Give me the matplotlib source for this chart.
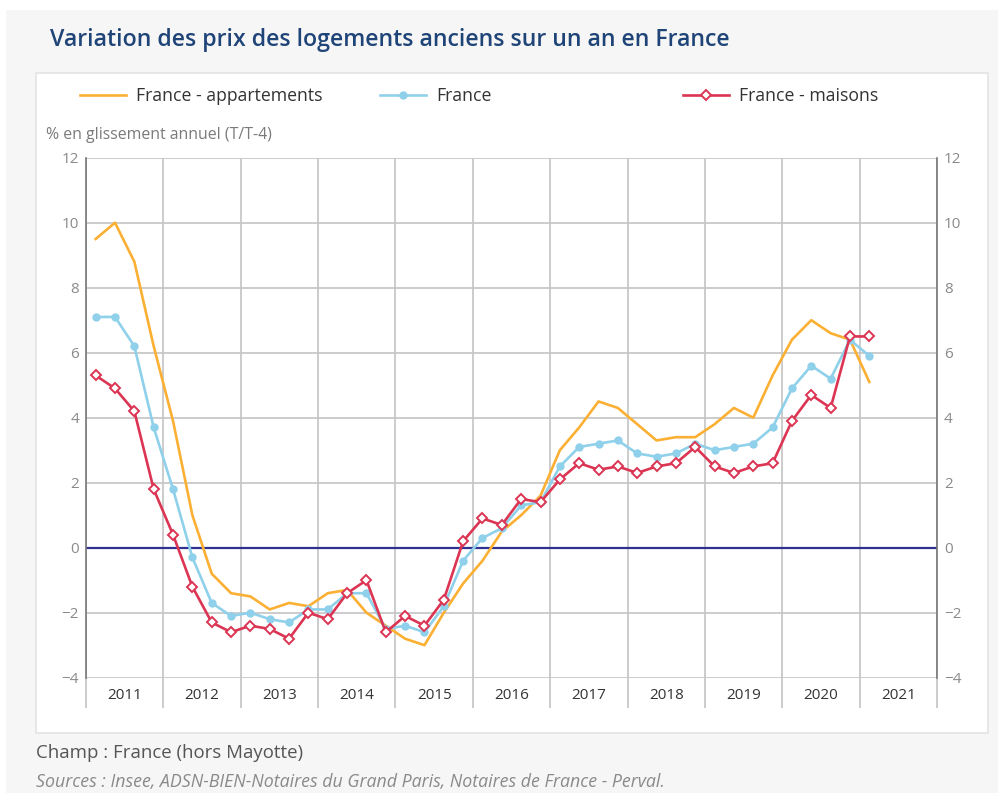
import matplotlib.pyplot as plt
from matplotlib.patches import Rectangle

plt.rcParams['font.family'] = ['Open Sans', 'DejaVu Sans']

# trimestres 2011T1 .. 2021T1 (glissement annuel, en %)
annees = list(range(2011, 2022))
trimestres = [a + (q + 0.5) / 4 for a in annees for q in range(4)][:41]

appartements = [9.5, 10.0, 8.8, 6.2, 3.9, 1.0, -0.8, -1.4, -1.5, -1.9,
                -1.7, -1.8, -1.4, -1.3, -2.0, -2.4, -2.8, -3.0, -2.0, -1.1,
                -0.4, 0.5, 1.0, 1.6, 3.0, 3.7, 4.5, 4.3, 3.8, 3.3,
                3.4, 3.4, 3.8, 4.3, 4.0, 5.3, 6.4, 7.0, 6.6, 6.4, 5.1]
france = [7.1, 7.1, 6.2, 3.7, 1.8, -0.3, -1.7, -2.1, -2.0, -2.2,
          -2.3, -1.9, -1.9, -1.4, -1.4, -2.5, -2.4, -2.6, -1.8, -0.4,
          0.3, 0.6, 1.3, 1.4, 2.5, 3.1, 3.2, 3.3, 2.9, 2.8,
          2.9, 3.2, 3.0, 3.1, 3.2, 3.7, 4.9, 5.6, 5.2, 6.4, 5.9]
maisons = [5.3, 4.9, 4.2, 1.8, 0.4, -1.2, -2.3, -2.6, -2.4, -2.5,
           -2.8, -2.0, -2.2, -1.4, -1.0, -2.6, -2.1, -2.4, -1.6, 0.2,
           0.9, 0.7, 1.5, 1.4, 2.1, 2.6, 2.4, 2.5, 2.3, 2.5,
           2.6, 3.1, 2.5, 2.3, 2.5, 2.6, 3.9, 4.7, 4.3, 6.5, 6.5]

c_app = '#fbb034'
c_fr = '#8fd0ea'
c_mai = '#dc3453'
gris = '#c4c4c4'

W, H = 998, 793
fig = plt.figure(figsize=(W / 100, H / 100), dpi=100, facecolor='white')

# fond gris + panneau blanc
fig.patches.append(Rectangle((6 / W, 0), 1, 1 - 10 / H, transform=fig.transFigure,
                             facecolor='#f6f6f6', edgecolor='none', zorder=-3))
fig.patches.append(Rectangle((36 / W, 1 - 733 / H), (988 - 36) / W, (733 - 73) / H,
                             transform=fig.transFigure, facecolor='white',
                             edgecolor='#e3e3e3', lw=1.2, zorder=-2))

ax = fig.add_axes([86 / W, 1 - 677.7 / H, (937 - 86) / W, (677.7 - 157.7) / H])
ax.set_facecolor('none')

l1, = ax.plot(trimestres, appartements, color=c_app, lw=1.9, zorder=3)
l2, = ax.plot(trimestres, france, color=c_fr, lw=1.9, marker='o', ms=5, zorder=4)
l3, = ax.plot(trimestres, maisons, color=c_mai, lw=1.9, marker='D', ms=5.5,
              mfc='white', mec=c_mai, mew=1.4, zorder=5)
ax.axhline(0, color='#2e3192', lw=1.6, zorder=2)

ax.set_xlim(2011, 2022)
ax.set_ylim(-4, 12)
ax.set_yticks(range(-4, 13, 2))
ax.set_xticks(range(2011, 2023))
ax.set_xticklabels([])
ax.set_xticks([a + 0.5 for a in annees], minor=True)
ax.set_xticklabels([str(a) for a in annees], minor=True)
ax.grid(True, which='major', color=gris, lw=1.2, zorder=1)
ax.set_axisbelow(True)

ax.tick_params(axis='x', which='major', length=21.5, width=1.2, color=gris, direction='out')
ax.tick_params(axis='x', which='minor', length=0, pad=7.5, labelsize=11, labelcolor='#333333')
ax.tick_params(axis='y', length=0, labelsize=11, labelcolor='#8a8a8a',
               labelright=True, pad=5)

for s in ['top', 'bottom']:
    ax.spines[s].set_visible(False)
for s in ['left', 'right']:
    ax.spines[s].set_color('#777777')
    ax.spines[s].set_linewidth(1.2)

# textes
fig.text(50 / W, 1 - 40 / H, 'Variation des prix des logements anciens sur un an en France',
         va='center', ha='left', fontsize=16.7, fontweight='semibold', color='#1f4478')
fig.text(46 / W, 1 - 135 / H, '% en glissement annuel (T/T-4)', va='center', ha='left',
         fontsize=11.4, color='#7a7a7a')
fig.text(36 / W, 1 - 753 / H, 'Champ : France (hors Mayotte)', va='center', ha='left',
         fontsize=13.4, color='#555555')
fig.text(36 / W, 1 - 782 / H, 'Sources : Insee, ADSN-BIEN-Notaires du Grand Paris, Notaires de France - Perval.',
         va='center', ha='left', fontsize=12.8, style='italic', color='#8a8a8a')

# légende
for h, lab, x0 in [(l1, 'France - appartements', 80), (l2, 'France', 380), (l3, 'France - maisons', 683)]:
    fig.legend(handles=[h], labels=[lab], loc='center left', bbox_to_anchor=(x0 / W, 1 - 96 / H),
               frameon=False, fontsize=12.7, handlelength=2.6, handletextpad=0.6,
               borderpad=0, borderaxespad=0, labelcolor='#333333')

fig.savefig('out.png', dpi=100)
